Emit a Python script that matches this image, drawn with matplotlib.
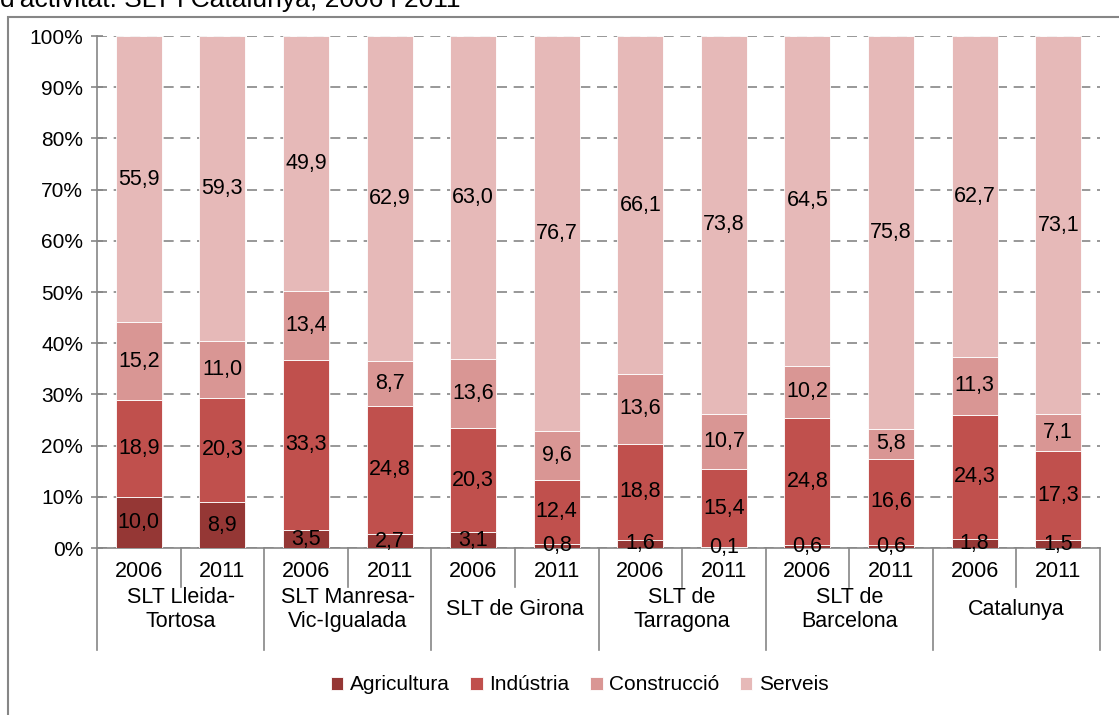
import numpy as np
import matplotlib.pyplot as plt
import matplotlib
from matplotlib.patches import Rectangle
from matplotlib.lines import Line2D

matplotlib.rcParams['font.family'] = ['Liberation Sans', 'DejaVu Sans']
matplotlib.rcParams['font.size'] = 15

# Data
groups = ['SLT Lleida-\nTortosa', 'SLT Manresa-\nVic-Igualada', 'SLT de Girona',
          'SLT de\nTarragona', 'SLT de\nBarcelona', 'Catalunya']
years = ['2006', '2011']
sectors = ['Agricultura', 'Indústria', 'Construcció', 'Serveis']
agricultura = [10.0, 8.9, 3.5, 2.7, 3.1, 0.8, 1.6, 0.1, 0.6, 0.6, 1.8, 1.5]
industria = [18.9, 20.3, 33.3, 24.8, 20.3, 12.4, 18.8, 15.4, 24.8, 16.6, 24.3, 17.3]
construccio = [15.2, 11.0, 13.4, 8.7, 13.6, 9.6, 13.6, 10.7, 10.2, 5.8, 11.3, 7.1]
serveis = [55.9, 59.3, 49.9, 62.9, 63.0, 76.7, 66.1, 73.8, 64.5, 75.8, 62.7, 73.1]
colors = ['#953735', '#C0504D', '#D99694', '#E6B9B8']

W, H = 1119, 715
fig = plt.figure(figsize=(W / 100, H / 100), dpi=100)
ax = fig.add_axes([97 / W, 1 - 548 / H, (1100 - 97) / W, (548 - 36) / H])

vals = np.array([agricultura, industria, construccio, serveis])
pct = vals / vals.sum(axis=0) * 100
x = np.arange(12) + 0.5
bottom = np.zeros(12)
for k in range(4):
    ax.bar(x, pct[k], 0.55, bottom=bottom, color=colors[k], edgecolor='white',
           linewidth=0.6, label=sectors[k], zorder=3)
    for i in range(12):
        ax.text(x[i], bottom[i] + pct[k][i] / 2, f'{vals[k][i]:.1f}'.replace('.', ','),
                ha='center', va='center', fontsize=15.5, zorder=5)
    bottom += pct[k]

ax.set_xlim(0, 12)
ax.set_ylim(0, 100)
ax.set_yticks(np.arange(0, 101, 10))
ax.set_yticklabels([f'{v}%' for v in range(0, 101, 10)])
ax.yaxis.grid(True, color='#868686', linestyle=(0, (6, 4)), linewidth=1.2, zorder=0)
ax.tick_params(axis='y', direction='inout', length=8, color='#868686', width=1.2, pad=6)
ax.set_xticks([])
for s in ['top', 'right']:
    ax.spines[s].set_visible(False)
ax.spines['left'].set_color('#868686')
ax.spines['bottom'].set_color('#868686')
ax.spines['left'].set_linewidth(1.2)
ax.spines['bottom'].set_linewidth(1.2)

# category axis
tr = ax.get_xaxis_transform()
for j in range(13):
    y_end = -0.199 if j % 2 == 0 else -0.076
    ax.add_line(Line2D([j, j], [0, y_end], transform=tr, color='#868686', lw=1.2, clip_on=False))
for i in range(12):
    ax.text(x[i], -0.045, years[i % 2], transform=tr, ha='center', va='center', fontsize=15.5)
for g in range(6):
    ax.text(2 * g + 1, -0.12, groups[g], transform=tr, ha='center', va='center',
            fontsize=15.5, linespacing=1.2)

ax.legend(loc='center', bbox_to_anchor=(0.518, 1 - 685 / H), bbox_transform=fig.transFigure,
          ncol=4, frameon=False, handlelength=0.6, handleheight=0.6, handletextpad=0.3,
          columnspacing=1.0, fontsize=15)

# outer border and cut title
fig.patches.append(Rectangle((8 / W, -0.05), 1.1, 1 - 16.5 / H + 0.05, transform=fig.transFigure,
                             fill=False, edgecolor='#868686', linewidth=1.5))
fig.text(0 / W, 1 - 7 / H, "d'activitat. SLT i Catalunya, 2006 i 2011", ha='left', va='baseline',
         fontsize=19)

fig.savefig('out.png', dpi=100)
